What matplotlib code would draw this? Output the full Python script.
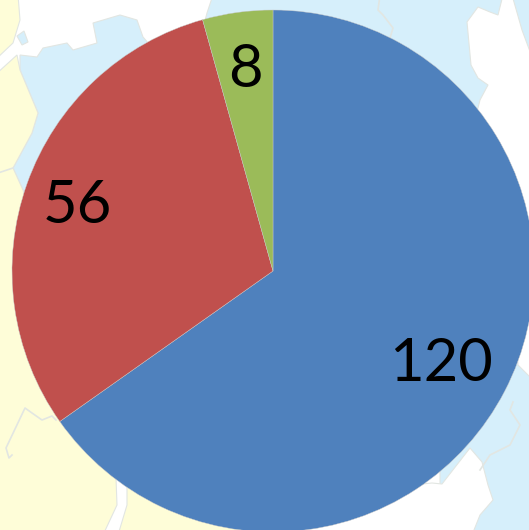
import matplotlib
matplotlib.use("Agg")
import matplotlib.pyplot as plt
from matplotlib.patches import Polygon

values = [120, 56, 8]
labels = ["120", "56", "8"]
colors = ["#4f81bd", "#c0504d", "#9bbb59"]

W, H = 529, 530
SEA = "#d6effb"
LAND = "#fefdd8"
COAST = "#e2e6e2"

# background map, traced by eye in image pixels (y down)
sea_shapes = [
    [(20, 55), (37, 57), (43, 48), (67, 43), (73, 50), (97, 43), (93, 23), (120, 15),
     (137, 20), (143, 37), (150, 45), (273, 120), (273, 300), (30, 260), (23, 190),
     (13, 168), (32, 133), (38, 113), (20, 70)],
    [(213, -5), (535, -5), (535, 535), (440, 535), (440, 300), (273, 200), (200, 40),
     (207, 13)],
    [(17, 36), (24, 31), (28, 42), (22, 45)],
]
white_shapes = [
    [(467, 22), (478, 7), (490, 12), (498, 15), (503, -5), (512, -5), (522, 30), (535, 65),
     (535, 382), (518, 365), (517, 345), (500, 300), (460, 130), (478, 108), (480, 100),
     (488, 85), (478, 78), (471, 65)],
    [(432, 483), (442, 484), (470, 448), (482, 462), (488, 485), (493, 500), (480, 515),
     (472, 535), (265, 535), (265, 500)],
]
land_shapes = [
    [(-5, -5), (18, -5), (20, 20), (13, 43), (-5, 60)],
    [(-5, 75), (17, 55), (20, 70), (38, 113), (32, 133), (13, 168), (23, 190), (60, 300),
     (273, 450), (273, 535), (-5, 535)],
]
river_shapes = [
    [(116, 478), (127, 485), (127, 505), (118, 535), (103, 535), (117, 505)],
]
border_lines = [
    [(-5, 174), (13, 168)],
    [(12, 455), (9, 458), (6, 448), (25, 408), (32, 413), (42, 420), (52, 416), (56, 420)],
    [(380, -5), (378, 10), (383, 15), (393, 28), (390, 38)],
    [(513, 402), (510, 410), (520, 425), (510, 445), (490, 455), (480, 470)],
]

fig = plt.figure(figsize=(W / 100, H / 100), dpi=100, facecolor="white")
ax = fig.add_axes([0, 0, 1, 1])


def to_axes(points):
    return [(x, H - y) for x, y in points]


for shape in sea_shapes:
    ax.add_patch(Polygon(to_axes(shape), facecolor=SEA, edgecolor=COAST, lw=0.8, zorder=1))
for shape in white_shapes:
    ax.add_patch(Polygon(to_axes(shape), facecolor="white", edgecolor=COAST, lw=0.8, zorder=2))
for shape in land_shapes:
    ax.add_patch(Polygon(to_axes(shape), facecolor=LAND, edgecolor=COAST, lw=0.8, zorder=3))
for shape in river_shapes:
    ax.add_patch(Polygon(to_axes(shape), facecolor="white", edgecolor=COAST, lw=0.8, zorder=4))
for line in border_lines:
    xs, ys = zip(*to_axes(line))
    ax.plot(xs, ys, color=COAST, lw=1.2, zorder=4)

wedges, _ = ax.pie(
    values,
    colors=colors,
    startangle=90,
    counterclock=False,
    center=(273, H - 271),
    radius=261,
    frame=True,
    wedgeprops={"linewidth": 0.3, "edgecolor": "#c8c8c8", "zorder": 5},
)

# data labels, x centre and baseline
label_pos = [(441, 381), (77, 223), (245, 87)]
for text, (x, y) in zip(labels, label_pos):
    ax.text(x, H - y, text, fontsize=43, family="Lato", color="black",
            ha="center", va="baseline", zorder=6)

ax.set_xlim(0, W)
ax.set_ylim(0, H)
ax.set_aspect("auto")
ax.axis("off")

fig.savefig("out.png", dpi=100)
